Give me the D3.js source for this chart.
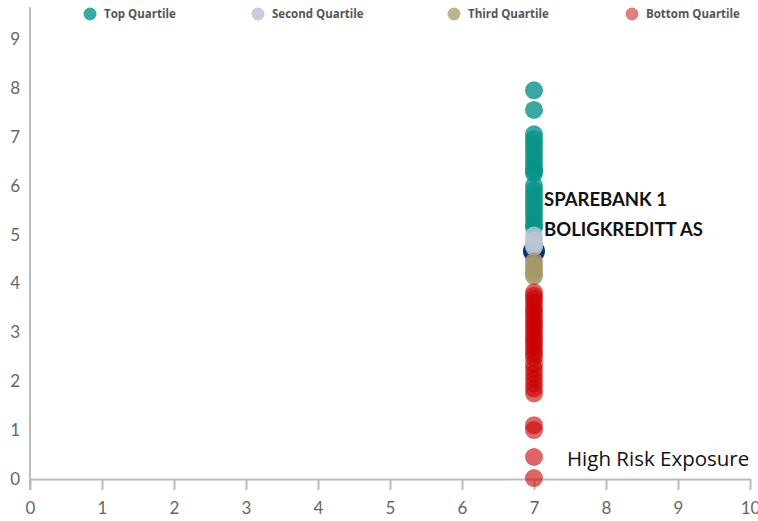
<!DOCTYPE html>
<html>
<head>
<meta charset="utf-8">
<script src="https://cdn.jsdelivr.net/npm/d3@7"></script>
<style>
  body { margin: 0; background: #fff; }
  svg { display: block; font-family: Lato, "Open Sans", sans-serif; }
</style>
</head>
<body>
<div id="chart"></div>
<script>
    // data
    exposureX = 7
    topQuartile = [7.95, 7.55, 7.05, 6.95, 6.85, 6.75, 6.65, 6.55, 6.45, 6.35, 6.3, 6.25, 6.0, 5.9, 5.8, 5.7, 5.6, 5.5, 5.4, 5.3, 5.2, 5.15]
    secondQuartile = [4.98, 4.88, 4.8, 4.75]
    thirdQuartile = [4.45, 4.38, 4.3, 4.22, 4.15]
    bottomQuartile = [3.82, 3.75, 3.68, 3.6, 3.52, 3.45, 3.38, 3.3, 3.22, 3.15, 3.08, 3.0, 2.92, 2.85, 2.78, 2.7, 2.62, 2.55, 2.48, 2.35, 2.25, 2.15, 2.05, 1.95, 1.85, 1.75, 1.1, 1.0, 0.45, 0.02]
    highlight = {x: 7, y: 4.66, name: ["SPAREBANK 1", "BOLIGKREDITT AS"]}
    legendNames = ["Top Quartile", "Second Quartile", "Third Quartile", "Bottom Quartile"]
    xTicks = d3.range(0, 11)
    yTicks = d3.range(0, 10)

    canvas = ({width: 758, height: 521})

    series = [
        {name: legendNames[0], values: topQuartile, fill: "#099288", opacity: 0.8, legend: "#3aaba3"},
        {name: legendNames[1], values: secondQuartile, fill: "#b9c5d5", opacity: 0.85, legend: "#c5cedc"},
        {name: legendNames[2], values: thirdQuartile, fill: "#a59968", opacity: 0.85, legend: "#bdb58f"},
        {name: legendNames[3], values: bottomQuartile, fill: "#c80000", opacity: 0.6, legend: "#e07f7f"}
    ]

    x = d3.scaleLinear().domain([0, 10]).range([30, 750])
    y = d3.scaleLinear().domain([0, 9]).range([479, 39])

    var svg = d3.select("#chart").append("svg")
        .attr("width", canvas.width)
        .attr("height", canvas.height)
        .attr("viewBox", [0, 0, canvas.width, canvas.height])

    // y axis line (runs a bit past both ends)
    svg.append("line")
        .attr("x1", x(0)).attr("x2", x(0))
        .attr("y1", y(9.65)).attr("y2", y(0) + 11)
        .attr("stroke", "#bbb").attr("stroke-width", 2)

    gx = svg.append("g")
        .attr("transform", `translate(0,${y(0)})`)
        .call(d3.axisBottom(x).tickValues(xTicks).tickSize(11).tickSizeOuter(0).tickPadding(12))
    gx.select(".domain").attr("stroke", "#bbb").attr("stroke-width", 2)
    gx.selectAll(".tick line").attr("stroke", "#bbb").attr("stroke-width", 2)
    gx.selectAll(".tick text").attr("fill", "#666").attr("font-size", 17).attr("font-family", "Lato, sans-serif")

    gy = svg.append("g")
        .attr("transform", `translate(${x(0)},0)`)
        .call(d3.axisLeft(y).tickValues(yTicks).tickSize(0).tickPadding(10))
    gy.select(".domain").remove()
    gy.selectAll(".tick text").attr("fill", "#666").attr("font-size", 17).attr("font-family", "Lato, sans-serif")

    // highlighted entity, drawn underneath the rest
    svg.append("circle")
        .attr("cx", x(highlight.x))
        .attr("cy", y(highlight.y))
        .attr("r", 11)
        .attr("fill", "#0d2f78")

    series.forEach(s => {
        svg.append("g").selectAll("circle")
            .data(s.values)
            .join("circle")
            .attr("cx", x(exposureX))
            .attr("cy", d => y(d))
            .attr("r", 9)
            .attr("fill", s.fill)
            .attr("fill-opacity", s.opacity)
    })

    svg.append("g").selectAll("text")
        .data(highlight.name)
        .join("text")
        .attr("x", x(highlight.x) + 10)
        .attr("y", (d, i) => y(highlight.y) - 45 + i * 30)
        .attr("font-size", 18.5)
        .attr("font-weight", "bold")
        .attr("fill", "#111")
        .text(d => d)

    svg.append("text")
        .attr("x", 567)
        .attr("y", 466)
        .attr("font-size", 20.5)
        .attr("font-family", "'Open Sans', sans-serif")
        .attr("fill", "#111")
        .text("High Risk Exposure")

    // legend
    legendX = [90, 258, 454, 632]
    lg = svg.append("g").selectAll("g")
        .data(series)
        .join("g")
        .attr("transform", (d, i) => `translate(${legendX[i]},14)`)
    lg.append("circle").attr("r", 6.5).attr("fill", d => d.legend)
    lg.append("text")
        .attr("x", 14)
        .attr("dy", "0.35em")
        .attr("font-size", 11.5)
        .attr("font-family", "'Open Sans', sans-serif")
        .attr("font-weight", "bold")
        .attr("fill", "#555")
        .text(d => d.name)
</script>
</body>
</html>
